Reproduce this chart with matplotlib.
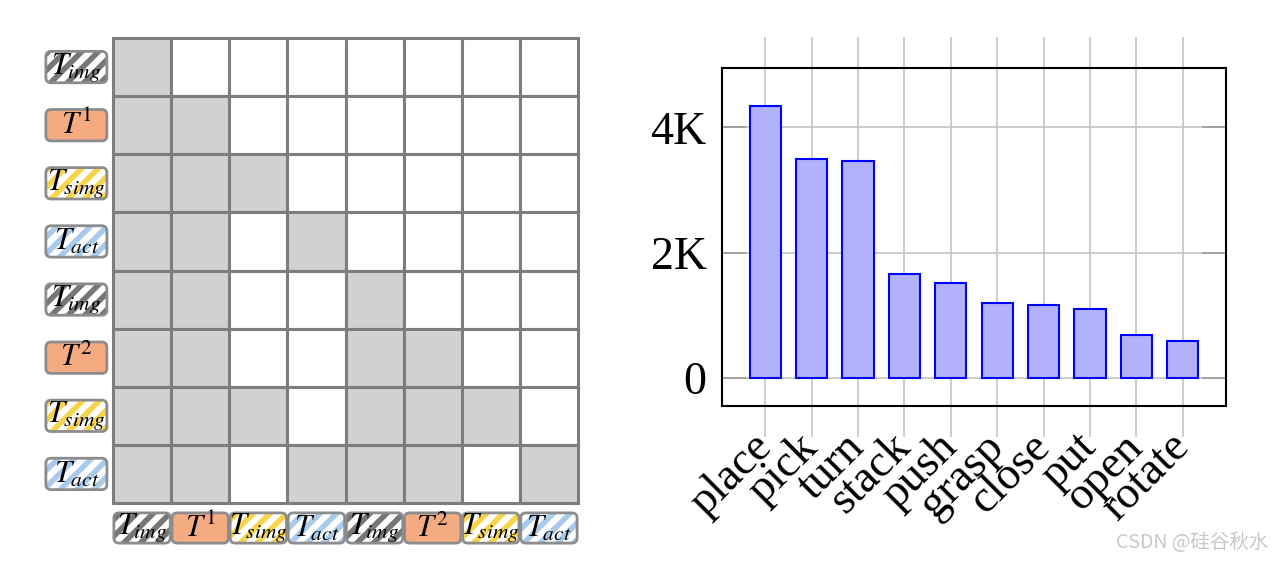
import numpy as np
import matplotlib.pyplot as plt
from matplotlib.patches import Rectangle, FancyBboxPatch

plt.rcParams['mathtext.fontset'] = 'stix'
plt.rcParams['hatch.linewidth'] = 4.0

W, H = 1274, 564          # figure size in pixels
CELL = 465 / 8            # one mask cell, pixels
GRID_X0, GRID_Y0 = 113, 38  # top-left of the mask grid, pixels

# left: token sequence and attention mask (1 = attended / gray)
tokens = [r'$T_{img}$', r'$T^{1}$', r'$T_{simg}$', r'$T_{act}$',
          r'$T_{img}$', r'$T^{2}$', r'$T_{simg}$', r'$T_{act}$']
token_kinds = ['img', 'txt', 'simg', 'act', 'img', 'txt', 'simg', 'act']
mask = [
    [1, 0, 0, 0, 0, 0, 0, 0],
    [1, 1, 0, 0, 0, 0, 0, 0],
    [1, 1, 1, 0, 0, 0, 0, 0],
    [1, 1, 0, 1, 0, 0, 0, 0],
    [1, 1, 0, 0, 1, 0, 0, 0],
    [1, 1, 0, 0, 1, 1, 0, 0],
    [1, 1, 1, 0, 1, 1, 1, 0],
    [1, 1, 0, 1, 1, 1, 0, 1],
]

# right: action verb counts
actions = ['place', 'pick', 'turn', 'stack', 'push', 'grasp',
           'close', 'put', 'open', 'rotate']
counts = [4340, 3500, 3460, 1660, 1510, 1200, 1170, 1095, 690, 585]

kind_style = {
    'img': ('white', '#767676'),
    'txt': ('#f4ab82', None),
    'simg': ('white', '#f8d44c'),
    'act': ('white', '#a9cbeb'),
}


def draw_token(ax, xc, yc, w, h, label, kind):
    face, hatch_col = kind_style[kind]
    box = ((xc - w / 2, yc - h / 2), w, h)
    style = 'round,pad=0,rounding_size=0.09'
    ax.add_patch(FancyBboxPatch(*box, boxstyle=style, facecolor=face,
                                edgecolor=hatch_col or 'none', linewidth=0,
                                hatch='//' if hatch_col else None))
    ax.add_patch(FancyBboxPatch(*box, boxstyle=style, facecolor='none',
                                edgecolor='#8c8c8c', linewidth=2))
    ax.text(xc, yc, label, ha='center', va='center', fontsize=22)


fig = plt.figure(figsize=(W / 100, H / 100), dpi=100)

# ---- attention mask panel ----
ax = fig.add_axes([0, 0, 637 / W, 1])
ax.set_xlim((0 - GRID_X0) / CELL, (637 - GRID_X0) / CELL)
ax.set_ylim((H - GRID_Y0) / CELL, (0 - GRID_Y0) / CELL)
ax.axis('off')

for r in range(8):
    for c in range(8):
        ax.add_patch(Rectangle((c, r), 1, 1,
                               facecolor='#d2d0d0' if mask[r][c] else 'white',
                               edgecolor='#7e7c7c', linewidth=2.2))

for i, (lab, kind) in enumerate(zip(tokens, token_kinds)):
    draw_token(ax, -0.63, i + 0.5, 1.05, 0.54, lab, kind)
    draw_token(ax, i + 0.5, 8.43, 0.97, 0.52, lab, kind)

# ---- verb count panel ----
ax2 = fig.add_axes([722 / W, (H - 406) / H, 504 / W, 338 / H])
x = np.arange(len(actions))
ax2.bar(x, counts, width=0.67, color='#b2b2fa', edgecolor='blue',
        linewidth=1.5, zorder=3)
ax2.set_xlim(-0.93, len(actions) - 1 + 0.93)
ax2.set_ylim(-450, 4950)
ax2.set_yticks([0, 2000, 4000])
ax2.set_yticklabels(['0', '2K', '4K'], fontfamily='Liberation Serif', fontsize=33)
ax2.set_xticks(x)
ax2.set_xticklabels(actions, rotation=45, ha='right', va='center',
                    rotation_mode='anchor',
                    fontfamily='Liberation Serif', fontsize=33)
ax2.grid(True, color='#c4c4c4', linewidth=1.2)
ax2.set_axisbelow(True)
ax2.tick_params(axis='x', direction='out', length=22, width=1.2,
                color='#c4c4c4', top=True, bottom=True, pad=3)
ax2.tick_params(axis='y', direction='in', length=17, width=1.2,
                color='#9a9a9a', left=True, right=True, pad=11)
for s in ax2.spines.values():
    s.set_linewidth(1.5)
    s.set_color('black')

fig.text(1268 / W, (H - 543) / H, 'CSDN @硅谷秋水', ha='right', va='center',
         fontsize=14, color='#c8c8c8',
         family=['Noto Sans CJK SC', 'DejaVu Sans'])

fig.savefig('out.png', dpi=100)
